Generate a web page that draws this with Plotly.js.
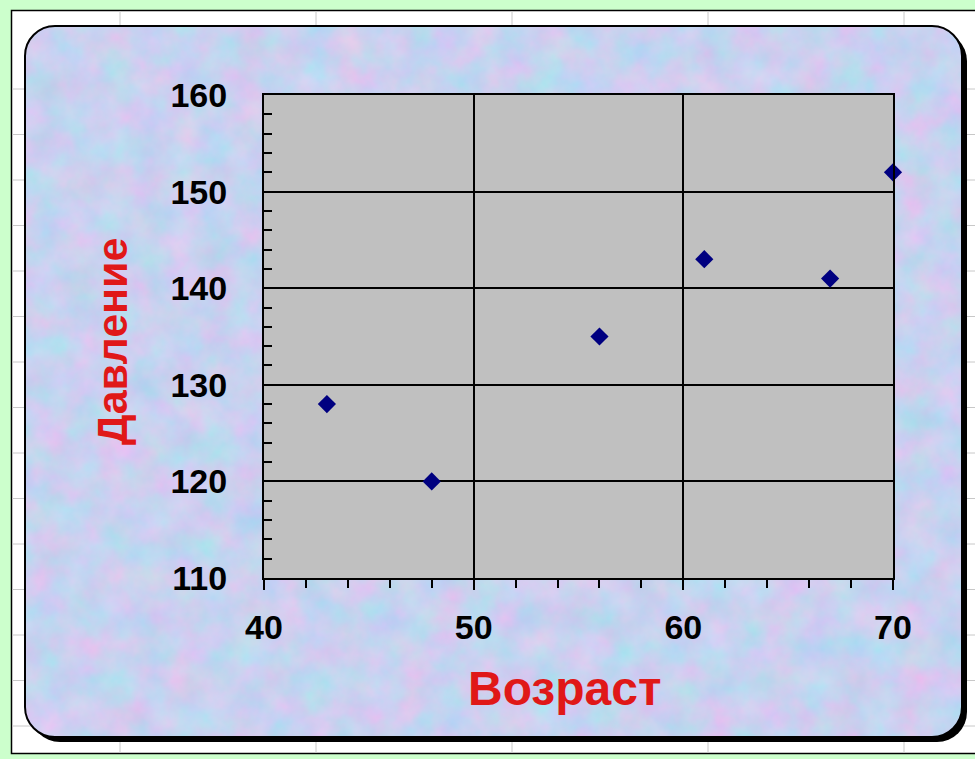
<!DOCTYPE html>
<html>
<head>
<meta charset="utf-8">
<script src="https://cdn.plot.ly/plotly-3.0.1.min.js"></script>
<style>
  html, body { margin: 0; padding: 0; background: #ccffcc; }
  #wrap { position: relative; width: 975px; height: 759px; overflow: hidden; }
  #deco { position: absolute; left: 0; top: 0; }
  #chart { position: absolute; left: 0; top: 0; width: 975px; height: 759px; }
</style>
</head>
<body>
<div id="wrap">
<svg id="deco" width="975" height="759" xmlns="http://www.w3.org/2000/svg">
  <defs>
    <filter id="tex" x="0" y="0" width="100%" height="100%" color-interpolation-filters="sRGB">
      <feTurbulence type="fractalNoise" baseFrequency="0.03" numOctaves="4" seed="7" result="n"/>
      <feColorMatrix in="n" type="matrix"
        values="0.3 0 0 0 0.635
                -0.12 0.1 0 0 0.83
                0 0 0.06 0 0.91
                0 0 0 0 1"/>
    </filter>
    <clipPath id="rr"><rect x="25" y="26" width="937" height="711" rx="30" ry="30"/></clipPath>
  </defs>
  <rect x="0" y="0" width="975" height="759" fill="#ccffcc"/>
  <rect x="11.5" y="10.5" width="990" height="743" fill="#ffffff" stroke="#000" stroke-width="1.5"/>
  <g id="xlgrid" stroke="#c8c8c8" stroke-width="1"></g>
  <rect x="30" y="31" width="937" height="711" rx="30" ry="30" fill="#000"/>
  <g clip-path="url(#rr)">
    <rect x="25" y="26" width="937" height="711" fill="#c9d3ef"/>
    <rect x="25" y="26" width="937" height="711" filter="url(#tex)"/>
  </g>
  <rect x="25" y="26" width="937" height="711" rx="30" ry="30" fill="none" stroke="#000" stroke-width="2"/>
</svg>
<div id="chart"></div>
</div>
<script>
// Excel sheet grid behind the chart (decoration)
(function(){
  var g = document.getElementById('xlgrid');
  var ns = 'http://www.w3.org/2000/svg';
  var cols = [120, 316, 512, 708, 904];
  cols.forEach(function(x){
    var l = document.createElementNS(ns,'line');
    l.setAttribute('x1',x);l.setAttribute('x2',x);l.setAttribute('y1',11);l.setAttribute('y2',753);
    g.appendChild(l);
  });
  for (var y = 89; y < 753; y += 45.5) {
    var l = document.createElementNS(ns,'line');
    l.setAttribute('x1',12);l.setAttribute('x2',975);l.setAttribute('y1',y);l.setAttribute('y2',y);
    g.appendChild(l);
  }
})();

// Data
var age = [43, 48, 56, 61, 67, 70];
var pressure = [128, 120, 135, 143, 141, 152];
var xTitle = 'Возраст';
var yTitle = 'Давление';

var W = 975, H = 759;
var tickFont = {family: 'Liberation Sans, Arial, sans-serif', size: 34, color: '#000', weight: 'bold'};
var xTitleFont = {family: 'Liberation Sans, Arial, sans-serif', size: 48, color: '#e01818', weight: 'bold'};
var yTitleFont = {family: 'Liberation Sans, Arial, sans-serif', size: 43, color: '#e01818', weight: 'bold'};

var trace = {
  x: age, y: pressure, type: 'scatter', mode: 'markers', cliponaxis: false,
  marker: {symbol: 'diamond', size: 14, color: '#000080', line: {width: 0}},
  hoverinfo: 'x+y'
};

var layout = {
  width: W, height: H,
  margin: {l: 264, r: 82, t: 95, b: 181},
  paper_bgcolor: 'rgba(0,0,0,0)',
  plot_bgcolor: '#c0c0c0',
  showlegend: false,
  xaxis: {
    range: [40, 70], dtick: 10, tick0: 40,
    showgrid: true, gridcolor: '#000', gridwidth: 2,
    zeroline: false,
    showline: true, linecolor: '#000', linewidth: 2, mirror: true,
    ticks: 'outside', ticklen: 10, tickwidth: 2, tickcolor: '#000',
    minor: {dtick: 2, ticks: 'outside', ticklen: 8, tickwidth: 2, tickcolor: '#000', showgrid: false},
    tickfont: tickFont, ticklabelstandoff: 8
  },
  yaxis: {
    range: [110, 160], dtick: 10, tick0: 110,
    showgrid: true, gridcolor: '#000', gridwidth: 2,
    zeroline: false,
    showline: true, linecolor: '#000', linewidth: 2, mirror: true,
    ticks: 'inside', ticklen: 8, tickwidth: 2, tickcolor: '#000',
    minor: {dtick: 2, ticks: 'inside', ticklen: 8, tickwidth: 2, tickcolor: '#000', showgrid: false},
    tickfont: tickFont, ticklabelstandoff: 28
  },
  annotations: [
    {text: xTitle, xref: 'paper', yref: 'paper', x: (564 - 264) / (W - 264 - 82), y: -(688 - 578) / (H - 95 - 181),
     xanchor: 'center', yanchor: 'middle', showarrow: false, font: xTitleFont},
    {text: yTitle, xref: 'paper', yref: 'paper', x: -(264 - 112) / (W - 264 - 82), y: 1 - (342 - 95) / (H - 95 - 181),
     xanchor: 'center', yanchor: 'middle', textangle: -90, showarrow: false, font: yTitleFont}
  ]
};

Plotly.newPlot('chart', [trace], layout, {displayModeBar: false, staticPlot: true});
</script>
</body>
</html>
